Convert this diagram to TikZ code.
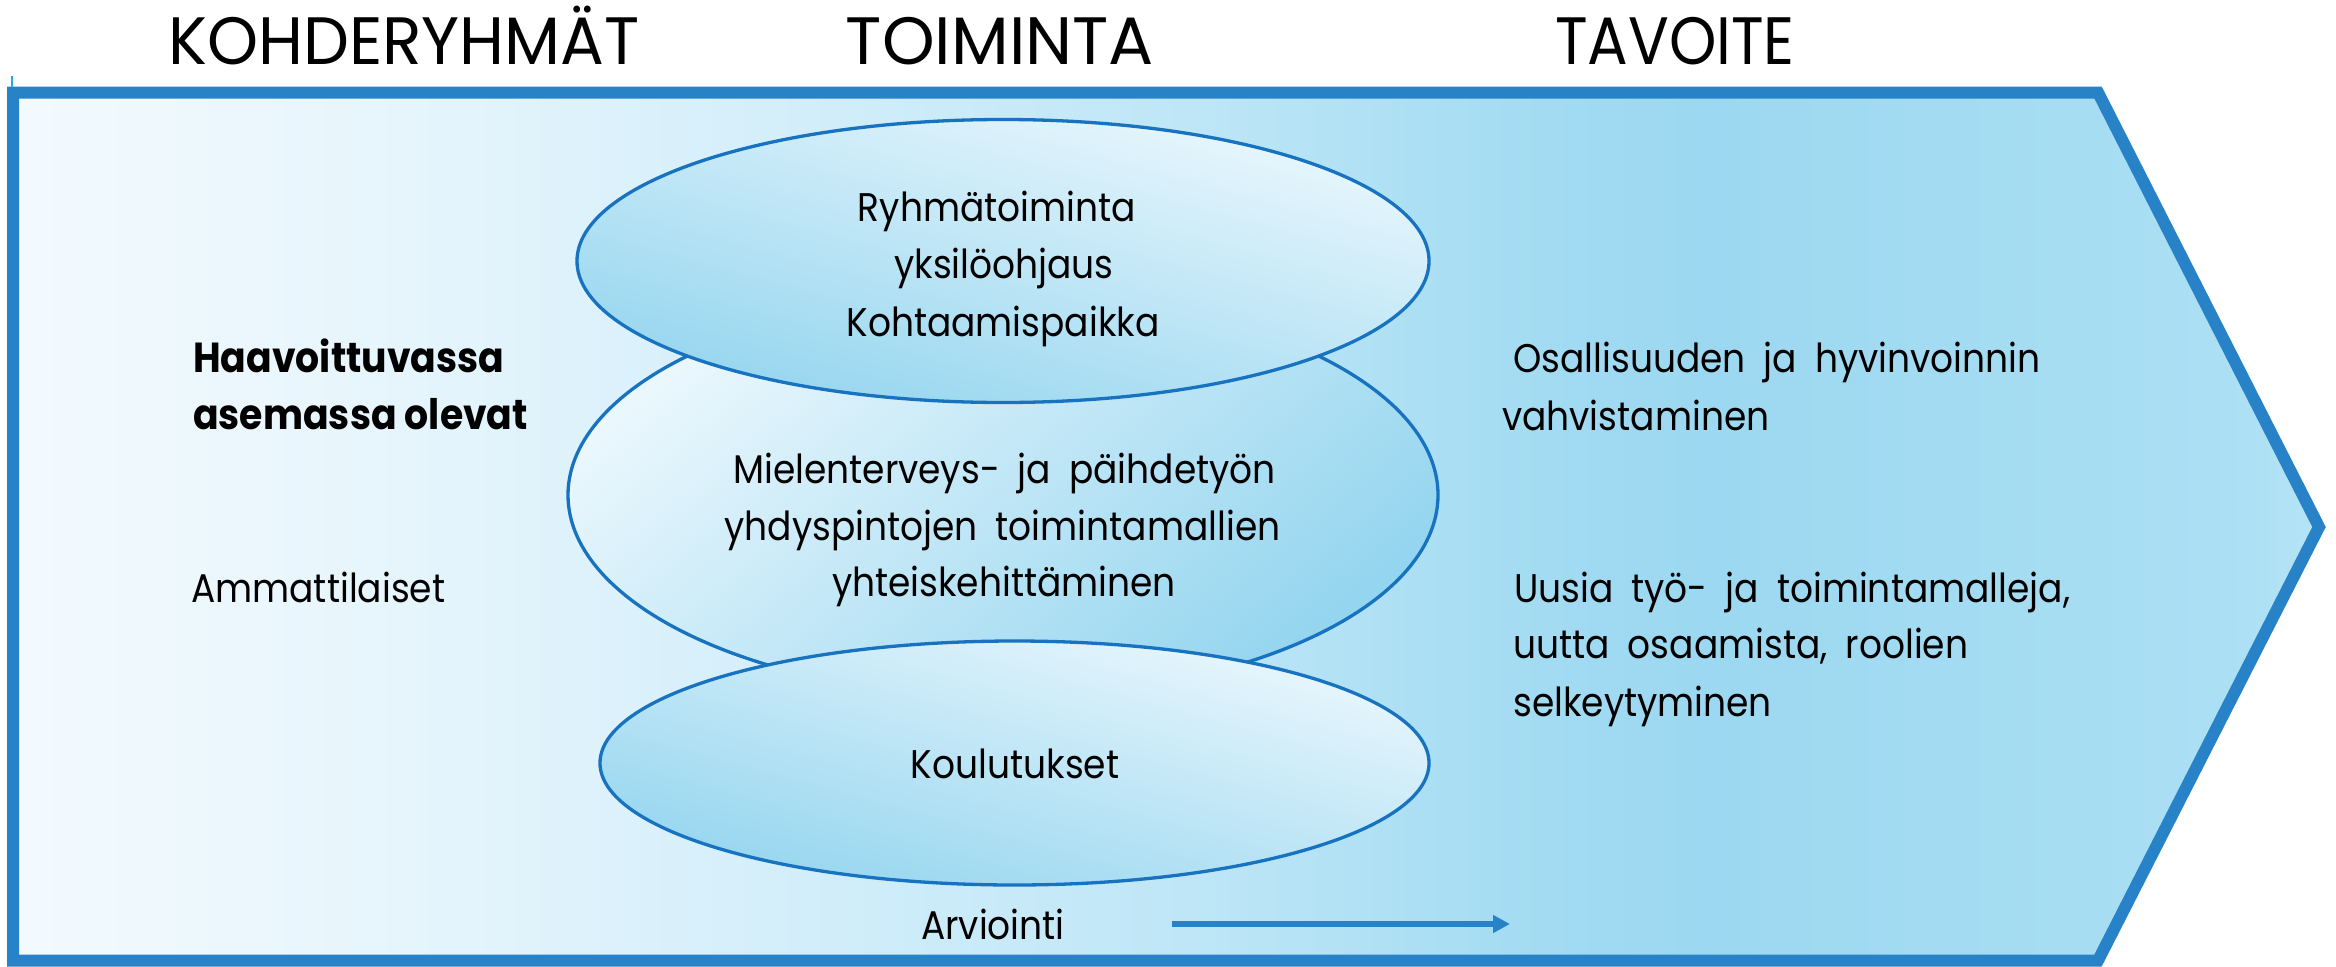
\documentclass[tikz,border=0pt]{standalone}
\usepackage{fontspec}
\setmainfont{Poppins}[FakeStretch=0.9]
\newfontfamily\headA{Poppins}[FakeStretch=1.0]
\newfontfamily\headB{Poppins}[FakeStretch=0.97]
\usetikzlibrary{shapes.geometric,arrows.meta}
\newcommand{\widespace}{\spaceskip=18pt\relax}
\definecolor{edgeblue}{HTML}{2882C8}
\definecolor{ellblue}{HTML}{1772C0}
\definecolor{tickcyan}{HTML}{29ABE2}
\definecolor{elllight}{HTML}{EAF7FD}
\definecolor{elldark}{HTML}{94D5EF}
\definecolor{bgA}{HTML}{F3FAFE}
\definecolor{bgB}{HTML}{E6F5FC}
\definecolor{bgC}{HTML}{D3EEFA}
\definecolor{bgD}{HTML}{BEE6F7}
\definecolor{bgE}{HTML}{A2DBF2}
\definecolor{bgF}{HTML}{9CD8F1}
\definecolor{bgG}{HTML}{A4DCF2}
\definecolor{bgH}{HTML}{ABDFF4}
\definecolor{bgI}{HTML}{B5E4F6}
\pgfdeclarehorizontalshading{bgshade}{100bp}{color(0bp)=(bgA); color(25bp)=(bgA); color(33.4bp)=(bgB); color(42bp)=(bgC); color(50.7bp)=(bgD); color(58.3bp)=(bgE); color(61.6bp)=(bgF); color(68bp)=(bgG); color(73bp)=(bgH); color(75bp)=(bgI); color(100bp)=(bgI)}
\tikzset{
  headtxt/.style={font=\fontsize{67}{80}\selectfont, anchor=base, inner sep=0pt},
  bodytxt/.style={font=\fontsize{40}{48}\selectfont, execute at begin node=\widespace, anchor=base, inner sep=0pt},
  leftbody/.style={bodytxt, anchor=base west},
  boldtxt/.style={font=\fontsize{42}{50}\selectfont\bfseries, anchor=base west, inner sep=0pt},
  ellnode/.style={ellipse, draw=ellblue, line width=3.3pt, inner sep=0pt, top color=elllight, bottom color=elldark}
}
\begin{document}
\begin{tikzpicture}[x=1pt,y=-1pt]
\useasboundingbox (0,0) rectangle (2336,966);
% big arrow
\shadedraw[shading=bgshade, draw=edgeblue, line width=12pt]
  (13,92.5) -- (2098,92.5) -- (2319,527) -- (2098,960.5) -- (13,960.5) -- cycle;
\draw[tickcyan, line width=1.5pt] (12,76) -- (12,87);
% headings
\node[headtxt, font=\fontsize{67}{80}\headB] (hK) at (404,65) {KOHDERYHMÄT};
\node[headtxt, font=\fontsize{67}{80}\headA] (hT) at (1000,65) {TOIMINTA};
\node[headtxt] (hV) at (1675,65) {TAVOITE};
% ellipses
\node[ellnode, minimum width=870pt, minimum height=404pt, shading angle=40] (ellMid) at (1003,495) {};
\node[ellnode, minimum width=852pt, minimum height=283pt, shading angle=-15] (ellTop) at (1003,261) {};
\node[ellnode, minimum width=829pt, minimum height=244pt, shading angle=-15] (ellBot) at (1014.5,763) {};
% ellipse texts
\node[bodytxt] (tA1) at (997,221) {Ryhmätoiminta};
\node[bodytxt] (tA2) at (1004,278) {yksilöohjaus};
\node[bodytxt] (tA3) at (1003,336) {Kohtaamispaikka};
\node[bodytxt] (tB1) at (1004.5,483) {Mielenterveys- ja päihdetyön};
\node[bodytxt] (tB2) at (1002.5,540) {yhdyspintojen toimintamallien};
\node[bodytxt] (tB3) at (1004,596) {yhteiskehittäminen};
\node[bodytxt] (tC1) at (1015,778) {Koulutukset};
\node[bodytxt] (tEval) at (993,939) {Arviointi};
% left texts
\node[boldtxt] (lA1) at (193,372) {Haavoittuvassa};
\node[boldtxt] (lA2) at (193,429) {asemassa olevat};
\node[leftbody] (lB1) at (191,602) {Ammattilaiset};
% right texts
\node[leftbody] (rA1) at (1513,372) {Osallisuuden ja hyvinvoinnin};
\node[leftbody] (rA2) at (1502,430) {vahvistaminen};
\node[leftbody] (rB1) at (1514,602) {Uusia työ- ja toimintamalleja,};
\node[leftbody] (rB2) at (1513,658) {uutta osaamista, roolien};
\node[leftbody] (rB3) at (1513,716) {selkeytyminen};
% evaluation arrow
\coordinate (arrS) at (1172,924);
\coordinate (arrE) at (1510,924);
\draw[edgeblue, line width=6pt, -{Triangle[length=17pt,width=17pt]}] (arrS) -- (arrE);
\end{tikzpicture}
\end{document}
